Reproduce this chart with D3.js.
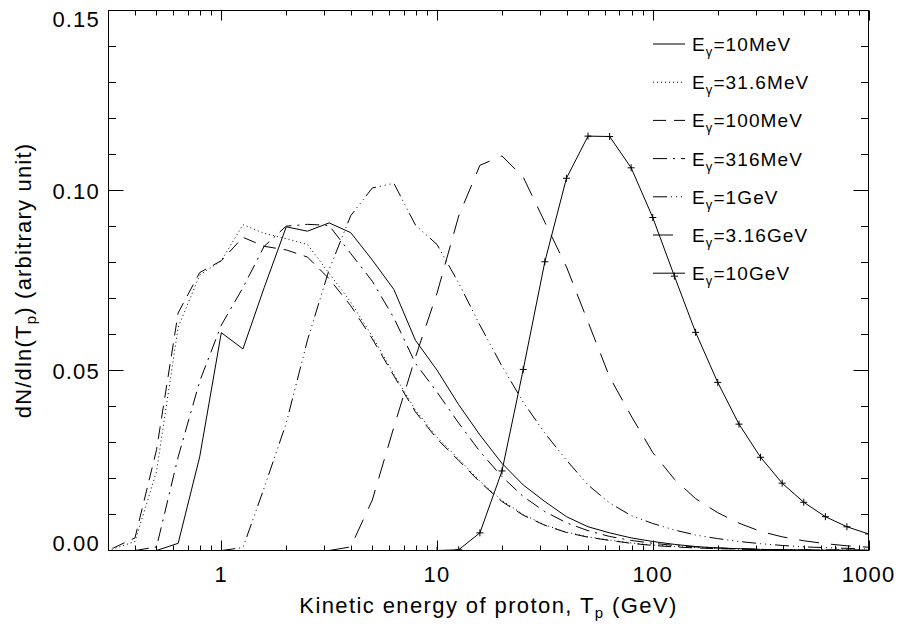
<!DOCTYPE html>
<html>
<head>
<meta charset="utf-8">
<script src="https://cdn.jsdelivr.net/npm/d3@7"></script>
<style>
  body { margin: 0; background: #fff; }
  svg { display: block; }
  text { font-family: "Liberation Sans", Arial, Helvetica, sans-serif; fill: #000; }
</style>
</head>
<body>
<div id="chart"></div>
<script>
// proton kinetic energy grid (GeV), 10 points per decade
const tp = [0.251, 0.316, 0.398, 0.501, 0.631, 0.794, 1.0, 1.26, 1.58, 2.0, 2.51, 3.16, 3.98, 5.01, 6.31, 7.94,
  10, 12.6, 15.8, 20.0, 25.1, 31.6, 39.8, 50.1, 63.1, 79.4, 100, 126, 158, 200, 251, 316, 398, 501, 631, 794, 1000];

// dN/dln(Tp) for each photon energy (null = not drawn)
const e10MeV = [null, null, null, 0, 0.0020, 0.026, 0.0605, 0.056, 0.073, 0.0899, 0.0887, 0.0910, 0.0883, 0.0807,
  0.0725, 0.0584, 0.0501, 0.0405, 0.0321, 0.0242, 0.0182, 0.0136, 0.0094, 0.0066, 0.0049, 0.0035, 0.0025, 0.0017,
  0.0011, 0.0007, 0.0005, 0.0003, 0.0002, 0.0001, 0.0001, 0.0001, 0];
const e31MeV = [0, 0.0004, 0.0025, 0.022, 0.062, 0.0765, 0.0805, 0.0905, 0.0881, 0.0866, 0.0850, 0.0770, 0.0690,
  0.0595, 0.0490, 0.0390, 0.0315, 0.0254, 0.0193, 0.0139, 0.0100, 0.0071, 0.0051, 0.0038, 0.0029, 0.0021, 0.0015,
  0.0011, 0.0008, 0.0006, 0.0004, 0.0003, 0.0002, 0.0001, 0.0001, 0.0001, 0.0001];
const e100MeV = [0, 0.0007, 0.0035, 0.028, 0.066, 0.0772, 0.0805, 0.0870, 0.0845, 0.0835, 0.0815, 0.0755, 0.0680,
  0.0588, 0.0485, 0.0385, 0.0310, 0.0250, 0.0190, 0.0136, 0.0098, 0.0070, 0.0050, 0.0037, 0.0028, 0.0020, 0.0014,
  0.0010, 0.0007, 0.0005, 0.0004, 0.0003, 0.0002, 0.0001, 0.0001, 0.0001, 0.0001];
const e316MeV = [null, null, 0, 0.001, 0.026, 0.047, 0.0626, 0.073, 0.0845, 0.0901, 0.0906, 0.0903, 0.0825, 0.0748,
  0.0646, 0.0520, 0.0440, 0.0354, 0.0275, 0.0205, 0.0150, 0.0108, 0.0077, 0.0055, 0.0039, 0.0028, 0.0020, 0.0014,
  0.0010, 0.0007, 0.0005, 0.0003, 0.0002, 0.0002, 0.0001, 0.0001, 0.0001];
const e1GeV = [null, null, null, null, null, null, 0, 0.0008, 0.0174, 0.0354, 0.0585, 0.078, 0.093, 0.1007, 0.1020,
  0.0904, 0.0850, 0.0743, 0.0626, 0.0512, 0.0412, 0.0326, 0.0251, 0.0182, 0.0132, 0.0097, 0.0075, 0.0057, 0.0043,
  0.0033, 0.0025, 0.0019, 0.0014, 0.0010, 0.0008, 0.0006, 0.0004];
const e3GeV = [null, null, null, null, null, null, null, null, null, null, null, 0, 0.001, 0.014, 0.0343, 0.0537,
  0.0715, 0.0929, 0.107, 0.1096, 0.1037, 0.0912, 0.0788, 0.0635, 0.0482, 0.0374, 0.0272, 0.0198, 0.0144, 0.0105,
  0.0076, 0.0053, 0.0038, 0.0027, 0.0019, 0.0013, 0.0009];
const e10GeV = [null, null, null, null, null, null, null, null, null, null, null, null, null, null, null, null,
  0, 0.0002, 0.0049, 0.0221, 0.0503, 0.0802, 0.1034, 0.1151, 0.1150, 0.1063, 0.0925, 0.0762, 0.0606, 0.0467,
  0.0351, 0.0259, 0.0187, 0.0134, 0.0094, 0.0066, 0.0046];

const seriesLabels = ["10MeV", "31.6MeV", "100MeV", "316MeV", "1GeV", "3.16GeV", "10GeV"];
const xTicks = [1, 10, 100, 1000];
const xTickLabels = ["1", "10", "100", "1000"];
const yTicks = [0, 0.05, 0.10, 0.15];
const yTickLabels = ["0.00", "0.05", "0.10", "0.15"];

const series = [e10MeV, e31MeV, e100MeV, e316MeV, e1GeV, e3GeV, e10GeV];
// IDL linestyles: solid, dotted, dashed, dash-dot, dash-dot-dot-dot, long dash, solid + psym
const dashes = ["", "1,3", "13,8", "14,6,2,6", "14,4,1,4,1,4,1,4", "20,12", ""];

const W = 904, H = 624;
const pLeft = 108.5, pRight = 868.5, pTop = 10.5, pBottom = 550.5;

const x = d3.scaleLog().domain([0.3, 1000]).range([pLeft, pRight]);
const y = d3.scaleLinear().domain([0, 0.15]).range([pBottom, pTop]);

const svg = d3.select("#chart").append("svg")
  .attr("width", W)
  .attr("height", H);

svg.append("rect").attr("width", W).attr("height", H).attr("fill", "#fff");

svg.append("defs").append("clipPath").attr("id", "plot-clip")
  .append("rect")
  .attr("x", pLeft).attr("y", pTop)
  .attr("width", pRight - pLeft).attr("height", pBottom - pTop);

// frame
svg.append("rect")
  .attr("x", pLeft).attr("y", pTop)
  .attr("width", pRight - pLeft).attr("height", pBottom - pTop)
  .attr("fill", "none").attr("stroke", "#000").attr("stroke-width", 1);

// ticks, all pointing inward (IDL style)
const xMinor = x.ticks().filter(v => v > 0.3 && !xTicks.includes(v));
const yMinor = y.ticks(15).filter(v => Math.round(v * 100) % 5 !== 0);

const tickG = svg.append("g").attr("stroke", "#000").attr("stroke-width", 1);
function xTickLines(vals, len) {
  vals.forEach(v => {
    const px = Math.round(x(v)) + 0.5;
    tickG.append("line").attr("x1", px).attr("x2", px).attr("y1", pBottom).attr("y2", pBottom - len);
    tickG.append("line").attr("x1", px).attr("x2", px).attr("y1", pTop).attr("y2", pTop + len);
  });
}
function yTickLines(vals, len) {
  vals.forEach(v => {
    const py = Math.round(y(v) - 0.5) + 0.5;
    tickG.append("line").attr("y1", py).attr("y2", py).attr("x1", pLeft).attr("x2", pLeft + len);
    tickG.append("line").attr("y1", py).attr("y2", py).attr("x1", pRight).attr("x2", pRight - len);
  });
}
xTickLines(xTicks, 10);
xTickLines(xMinor, 5);
yTickLines(yTicks, 15);
yTickLines(yMinor, 7.5);

// tick labels
svg.append("g").selectAll("text")
  .data(xTicks)
  .enter().append("text")
  .attr("x", d => x(d))
  .attr("y", 582)
  .attr("text-anchor", "middle")
  .style("font-size", "22px")
  .style("letter-spacing", "1.2px")
  .text((d, i) => xTickLabels[i]);

svg.append("g").selectAll("text")
  .data(yTicks)
  .enter().append("text")
  .attr("x", 100)
  .attr("y", (d, i) => {
    if (i === 0) return pBottom;               // end labels kept inside axis range
    if (i === yTicks.length - 1) return pTop + 16;
    return y(d) + 8;
  })
  .attr("text-anchor", "end")
  .style("font-size", "22px")
  .style("letter-spacing", "1.2px")
  .text((d, i) => yTickLabels[i]);

// axis titles
const xTitle = svg.append("text")
  .attr("x", (pLeft + pRight) / 2)
  .attr("y", 613)
  .attr("text-anchor", "middle")
  .style("font-size", "22px")
  .style("letter-spacing", "1.4px");
xTitle.append("tspan").text("Kinetic energy of proton, T");
xTitle.append("tspan").attr("dy", 5).style("font-size", "15px").text("p");
xTitle.append("tspan").attr("dy", -5).text(" (GeV)");

const yTitle = svg.append("text")
  .attr("transform", `translate(31, ${(pTop + pBottom) / 2}) rotate(-90)`)
  .attr("text-anchor", "middle")
  .style("font-size", "22px")
  .style("letter-spacing", "1.2px");
yTitle.append("tspan").text("dN/dln(T");
yTitle.append("tspan").attr("dy", 5).style("font-size", "15px").text("p");
yTitle.append("tspan").attr("dy", -5).text(") (arbitrary unit)");

// curves
const plot = svg.append("g").attr("clip-path", "url(#plot-clip)");
const line = d3.line()
  .defined(d => d[1] !== null)
  .x(d => x(d[0]))
  .y(d => y(d[1]));

series.forEach((vals, i) => {
  const pts = tp.map((t, k) => [t, vals[k]]);
  plot.append("path")
    .attr("d", line(pts))
    .attr("fill", "none")
    .attr("stroke", "#000")
    .attr("stroke-width", 1)
    .attr("stroke-dasharray", dashes[i] || null);
});

// plus symbols on the 10 GeV curve
plot.append("g").selectAll("path")
  .data(tp.map((t, k) => [t, e10GeV[k]]).filter(d => d[1] !== null))
  .enter().append("path")
  .attr("transform", d => `translate(${x(d[0])}, ${y(d[1])})`)
  .attr("d", "M-3.5,0H3.5M0,-3.5V3.5")
  .attr("stroke", "#000")
  .attr("stroke-width", 1);

// legend
const legend = svg.append("g");
seriesLabels.forEach((label, i) => {
  const ly = 44 + i * 38.2;
  legend.append("line")
    .attr("x1", 653).attr("x2", 685)
    .attr("y1", ly).attr("y2", ly)
    .attr("stroke", "#000").attr("stroke-width", 1)
    .attr("stroke-dasharray", dashes[i] || null);
  const t = legend.append("text")
    .attr("x", 692)
    .attr("y", ly + 7)
    .style("font-size", "19px")
    .style("letter-spacing", "1.1px");
  t.append("tspan").text("E");
  t.append("tspan").attr("dy", 5).style("font-size", "13px").text("γ");
  t.append("tspan").attr("dy", -5).text("=" + label);
});
</script>
</body>
</html>
